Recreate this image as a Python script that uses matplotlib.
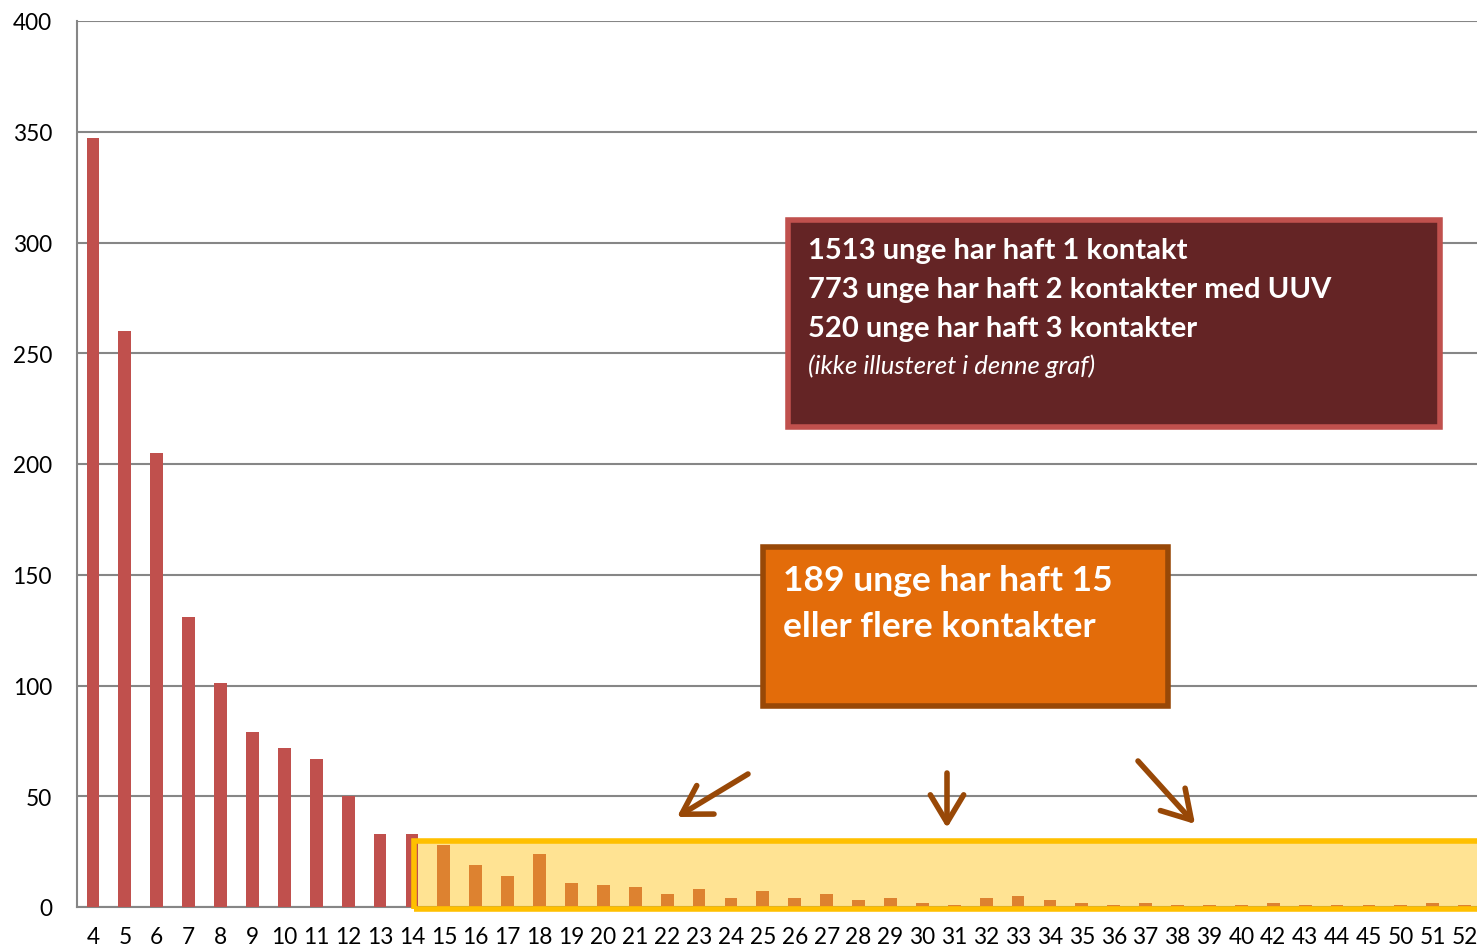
import matplotlib
matplotlib.use("Agg")
import matplotlib.pyplot as plt
from matplotlib.patches import Rectangle, FancyArrowPatch

categories = ["4", "5", "6", "7", "8", "9", "10", "11", "12", "13", "14",
              "15", "16", "17", "18", "19", "20", "21", "22", "23", "24", "25",
              "26", "27", "28", "29", "30", "31", "32", "33", "34", "35", "36",
              "37", "38", "39", "40", "42", "43", "44", "45", "50", "51", "52"]
values = [347, 260, 205, 131, 101, 79, 72, 67, 50, 33, 33,
          28, 19, 14, 24, 11, 10, 9, 6, 8, 4, 7,
          4, 6, 3, 4, 2, 1, 4, 5, 3, 2, 1,
          2, 1, 1, 1, 2, 1, 1, 1, 1, 2, 1]
n_low = 11  # categories 4..14 drawn in red
yticks = [0, 50, 100, 150, 200, 250, 300, 350, 400]

box1_lines = ["1513 unge har haft 1 kontakt",
              "773 unge har haft 2 kontakter med UUV",
              "520 unge har haft 3 kontakter"]
box1_note = "(ikke illusteret i denne graf)"
box2_lines = ["189 unge har haft 15", "eller flere kontakter"]

W, H = 1477, 953
fig = plt.figure(figsize=(W / 100, H / 100), dpi=100)
ax = fig.add_axes([77 / W, 45 / H, (1480.6 - 77) / W, 886 / H])

def fx(px):
    return px / W

def fy(py):
    return 1 - py / H

x = list(range(len(categories)))
colors = ["#C0504D"] * n_low + ["#DD8230"] * (len(categories) - n_low)
ax.bar(x, values, width=0.4, color=colors, zorder=3)

ax.set_xlim(-0.5, len(categories) - 0.5)
ax.set_ylim(0, 400)
ax.set_yticks(yticks)
ax.set_xticks(x)
ax.set_xticklabels(categories)
ax.tick_params(axis="both", length=0, labelsize=16.3, labelcolor="black")
ax.tick_params(axis="x", pad=13.5)
ax.tick_params(axis="y", pad=18)
for lab in ax.get_xticklabels() + ax.get_yticklabels():
    lab.set_fontfamily("Lato")
ax.grid(axis="y", color="#868686", linewidth=1.5, zorder=0)
for s in ["top", "right"]:
    ax.spines[s].set_visible(False)
ax.spines["left"].set_color("#868686")
ax.spines["left"].set_linewidth(1.5)
ax.spines["bottom"].set_color("#868686")
ax.spines["bottom"].set_linewidth(1.5)

# yellow highlight region (15+ contacts)
x0 = n_low - 1 + 0.05
ax.add_patch(Rectangle((x0, -0.7), 40, 30.4, facecolor="#FFE393", edgecolor="none",
                       zorder=2, clip_on=False))
ax.add_patch(Rectangle((x0, -0.7), 40, 30.4, facecolor="none", edgecolor="#FFC000",
                       linewidth=4, zorder=4, clip_on=False))

# dark info box
fig.patches.append(Rectangle((fx(788), fy(428)), fx(1440) - fx(788), fy(221) - fy(428),
                             transform=fig.transFigure, facecolor="#642425",
                             edgecolor="#C0504D", linewidth=4, zorder=5))
for i, t in enumerate(box1_lines):
    fig.text(fx(808), fy(251 + 39 * i), t, color="white", fontsize=21,
             fontweight="bold", family="Lato", va="center", ha="left", zorder=6)
fig.text(fx(808), fy(366), box1_note, color="white", fontsize=18.5,
         style="italic", family="Lato", va="center", ha="left", zorder=6)

# orange info box
fig.patches.append(Rectangle((fx(763), fy(707)), fx(1168) - fx(763), fy(548) - fy(707),
                             transform=fig.transFigure, facecolor="#E36C0A",
                             edgecolor="#984807", linewidth=4, zorder=5))
for i, t in enumerate(box2_lines):
    fig.text(fx(783), fy(581 + 46 * i), t, color="white", fontsize=25.5,
             fontweight="bold", family="Lato", va="center", ha="left", zorder=6)

# arrows
for (sx, sy), (ex, ey) in [((748, 775), (677, 818)), ((947, 774), (947, 829)),
                           ((1138, 762), (1195, 825))]:
    arr = FancyArrowPatch((fx(sx), fy(sy)), (fx(ex), fy(ey)), transform=fig.transFigure,
                          arrowstyle="->,head_length=1.0,head_width=0.6",
                          color="#984807", linewidth=4, mutation_scale=20,
                          shrinkA=0, shrinkB=0, zorder=6)
    fig.patches.append(arr)

fig.savefig("out.png", dpi=100)
